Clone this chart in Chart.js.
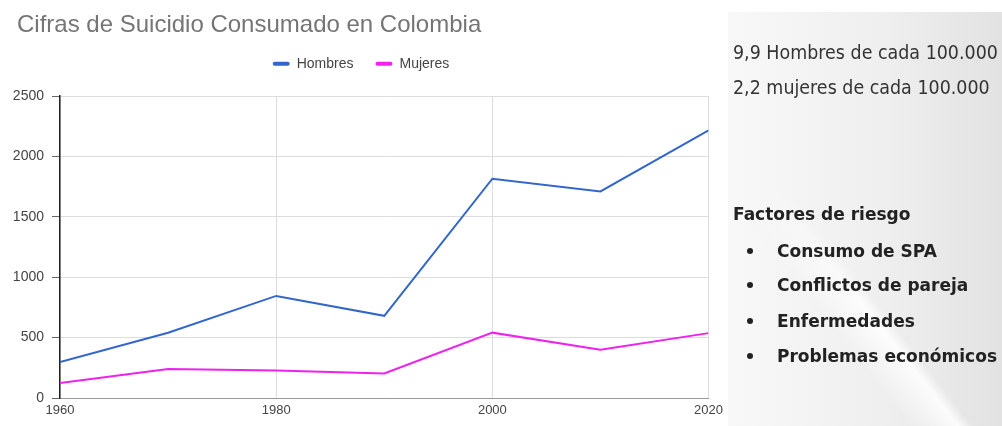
<!DOCTYPE html>
<html>
<head>
<meta charset="utf-8">
<script src="https://cdn.jsdelivr.net/npm/chart.js@4.4.1/dist/chart.umd.min.js"></script>
<style>
  html, body { margin: 0; padding: 0; width: 1002px; height: 426px; overflow: hidden; background: #fff; }
  #wrap { position: absolute; left: 0; top: 0; width: 728px; height: 426px; background: #fff; }
  #panel { position: absolute; left: 728px; top: 12px; width: 274px; height: 414px;
    background: linear-gradient(to right, #f8f8f8 0%, #eeeeee 60%, #e2e2e2 100%); overflow: hidden; }
  #streak { position: absolute; left: 0; top: 0; width: 100%; height: 100%;
    background: linear-gradient(52deg, rgba(255,255,255,0) 30%, rgba(255,255,255,0.85) 38.5%, rgba(255,255,255,0) 41%);
    -webkit-mask-image: linear-gradient(to bottom, transparent 40%, #000 72%);
    mask-image: linear-gradient(to bottom, transparent 40%, #000 72%); }
  .t { position: absolute; white-space: nowrap; font-family: "DejaVu Sans", sans-serif; line-height: 1;
    transform: scaleX(0.92); transform-origin: 0 50%; }
  .n { font-size: 19px; color: #333; }
  .b { font-size: 18.5px; font-weight: bold; color: #222; }
  .dot { position: absolute; width: 6px; height: 6px; border-radius: 50%; background: #222; }
</style>
</head>
<body>
<div id="wrap"><canvas id="c" width="728" height="426"></canvas></div>
<div id="panel">
  <div id="streak"></div>
  <div class="t n" style="left:5px; top:31px;">9,9 Hombres de cada 100.000</div>
  <div class="t n" style="left:5px; top:66px;">2,2 mujeres de cada 100.000</div>
  <div class="t b" style="left:5px; top:193px;">Factores de riesgo</div>
  <div class="dot" style="left:19px; top:236px;"></div>
  <div class="t b" style="left:49px; top:230px;">Consumo de SPA</div>
  <div class="dot" style="left:19px; top:270px;"></div>
  <div class="t b" style="left:49px; top:264px;">Conflictos de pareja</div>
  <div class="dot" style="left:19px; top:306px;"></div>
  <div class="t b" style="left:49px; top:300px;">Enfermedades</div>
  <div class="dot" style="left:19px; top:341px;"></div>
  <div class="t b" style="left:49px; top:335px;">Problemas económicos</div>
</div>
<script>
const titleText = 'Cifras de Suicidio Consumado en Colombia';
const years = [1960, 1970, 1980, 1990, 2000, 2010, 2020];
const hombres = [297, 540, 845, 680, 1815, 1710, 2215];
const mujeres = [124, 240, 228, 203, 541, 400, 537];
const seriesNames = ['Hombres', 'Mujeres'];
const xTickLabels = [1960, 1980, 2000, 2020];
const yTickLabels = [0, 500, 1000, 1500, 2000, 2500];

const F = '"Liberation Sans", Arial, sans-serif';
const toPoints = vals => years.map((x, i) => ({ x: x, y: vals[i] }));

// shift the title block so its text starts a little right of the axis labels
const titleShift = {
  id: 'titleShift',
  afterLayout(chart) { if (chart.titleBlock) chart.titleBlock.left += 4; }
};

new Chart(document.getElementById('c'), {
  type: 'line',
  plugins: [titleShift],
  data: {
    datasets: [
      { label: seriesNames[0], data: toPoints(hombres), borderColor: '#3366cc', backgroundColor: '#3366cc',
        borderWidth: 2, pointRadius: 0, tension: 0 },
      { label: seriesNames[1], data: toPoints(mujeres), borderColor: '#ee22ee', backgroundColor: '#ee22ee',
        borderWidth: 2, pointRadius: 0, tension: 0 }
    ]
  },
  options: {
    responsive: false,
    animation: false,
    devicePixelRatio: 1,
    layout: { padding: { left: 13, right: 19, top: 0, bottom: 0 } },
    plugins: {
      title: { display: true, text: titleText, align: 'start', color: '#757575', weight: 2000,
        font: { family: F, size: 24, weight: 'normal' }, padding: { top: 11, bottom: -5 } },
      legend: { display: true, position: 'top', align: 'center', weight: 1000,
        labels: {
          boxWidth: 17, boxHeight: 4, useBorderRadius: true, borderRadius: 2, padding: 22,
          color: '#444', font: { family: F, size: 14 },
          generateLabels: chart => Chart.defaults.plugins.legend.labels.generateLabels(chart)
            .map(l => Object.assign(l, { lineWidth: 0 }))
        } },
      subtitle: { display: true, text: '', weight: 500, font: { size: 1 }, padding: { top: 0, bottom: 14 } },
      tooltip: { enabled: false }
    },
    scales: {
      x: {
        type: 'linear', min: years[0], max: years[years.length - 1],
        afterBuildTicks: s => { s.ticks = xTickLabels.map(v => ({ value: v })); },
        ticks: { callback: v => String(v), color: '#444', font: { family: F, size: 13 }, padding: 5,
          maxRotation: 0, autoSkip: false },
        grid: { color: '#dddddd', drawTicks: false },
        border: { color: '#9a9a9a', width: 1 },
        afterFit: s => { s.height = 28; }
      },
      y: {
        min: 0, max: 2500,
        afterBuildTicks: s => { s.ticks = yTickLabels.map(v => ({ value: v })); },
        ticks: { callback: v => String(v), color: '#444', font: { family: F, size: 14 }, padding: 8 },
        grid: { color: '#dddddd', tickLength: 8, tickColor: '#666' },
        border: { color: '#222', width: 1.5 },
        afterFit: s => { s.width = 47; }
      }
    }
  }
});
</script>
</body>
</html>
